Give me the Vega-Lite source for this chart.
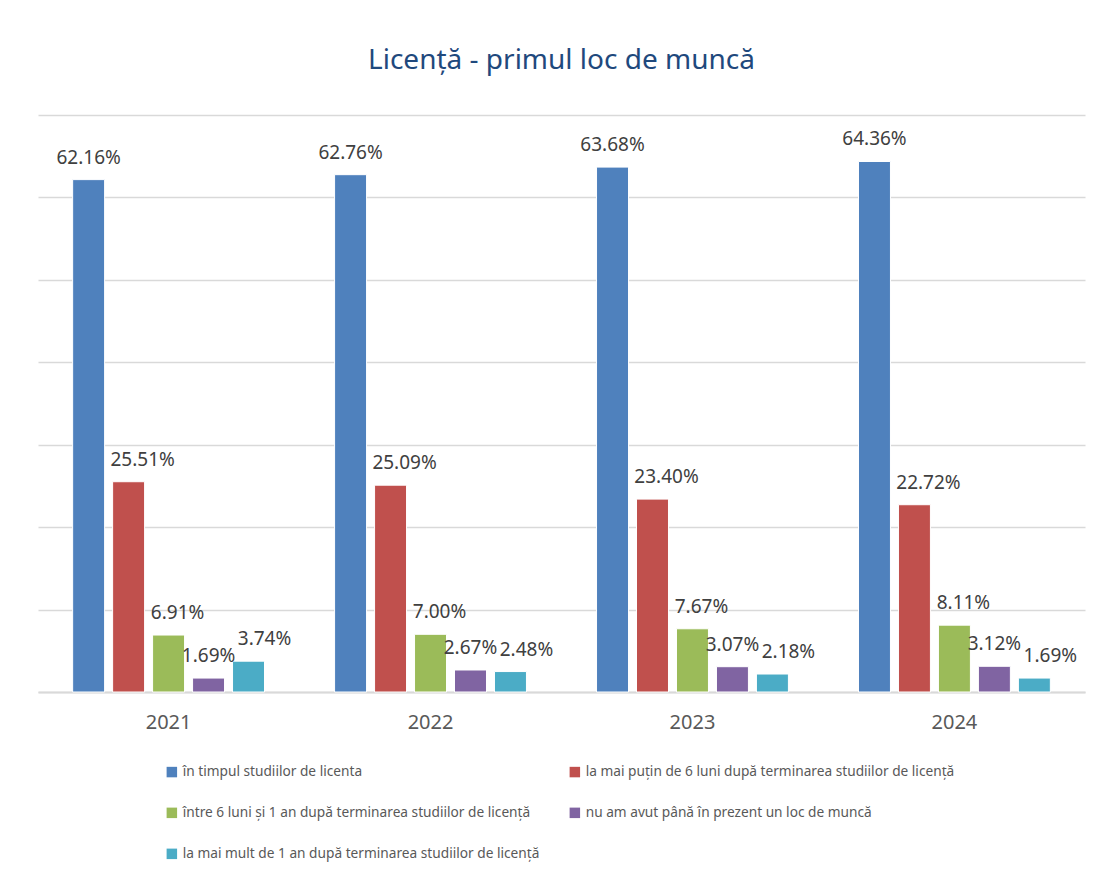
{
  "$schema": "https://vega.github.io/schema/vega-lite/v6.json",
  "autosize": "none",
  "width": 1047,
  "height": 577,
  "padding": {"left": 38, "top": 115, "right": 12, "bottom": 188},
  "background": "white",
  "title": {
    "text": "Licență - primul loc de muncă",
    "font": "Noto Sans",
    "fontSize": 28,
    "fontWeight": "normal",
    "color": "#1f497d",
    "anchor": "middle",
    "offset": 40
  },
  "data": {
    "values": [
      {"an": "2021", "cat": "în timpul studiilor de licenta", "v": 0.6216},
      {"an": "2021", "cat": "la mai puțin de 6 luni după terminarea studiilor de licență", "v": 0.2551},
      {"an": "2021", "cat": "între 6 luni și 1 an după terminarea studiilor de licență", "v": 0.0691},
      {"an": "2021", "cat": "nu am avut până în prezent un loc de muncă", "v": 0.0169},
      {"an": "2021", "cat": "la mai mult de 1 an după terminarea studiilor de licență", "v": 0.0374},
      {"an": "2022", "cat": "în timpul studiilor de licenta", "v": 0.6276},
      {"an": "2022", "cat": "la mai puțin de 6 luni după terminarea studiilor de licență", "v": 0.2509},
      {"an": "2022", "cat": "între 6 luni și 1 an după terminarea studiilor de licență", "v": 0.0700},
      {"an": "2022", "cat": "nu am avut până în prezent un loc de muncă", "v": 0.0267},
      {"an": "2022", "cat": "la mai mult de 1 an după terminarea studiilor de licență", "v": 0.0248},
      {"an": "2023", "cat": "în timpul studiilor de licenta", "v": 0.6368},
      {"an": "2023", "cat": "la mai puțin de 6 luni după terminarea studiilor de licență", "v": 0.2340},
      {"an": "2023", "cat": "între 6 luni și 1 an după terminarea studiilor de licență", "v": 0.0767},
      {"an": "2023", "cat": "nu am avut până în prezent un loc de muncă", "v": 0.0307},
      {"an": "2023", "cat": "la mai mult de 1 an după terminarea studiilor de licență", "v": 0.0218},
      {"an": "2024", "cat": "în timpul studiilor de licenta", "v": 0.6436},
      {"an": "2024", "cat": "la mai puțin de 6 luni după terminarea studiilor de licență", "v": 0.2272},
      {"an": "2024", "cat": "între 6 luni și 1 an după terminarea studiilor de licență", "v": 0.0811},
      {"an": "2024", "cat": "nu am avut până în prezent un loc de muncă", "v": 0.0312},
      {"an": "2024", "cat": "la mai mult de 1 an după terminarea studiilor de licență", "v": 0.0169}
    ]
  },
  "encoding": {
    "x": {
      "field": "an",
      "type": "nominal",
      "scale": {"paddingInner": 0.237, "paddingOuter": 0.117},
      "axis": {
        "title": null,
        "labelAngle": 0,
        "labelFont": "Noto Sans",
        "labelFontSize": 20,
        "labelColor": "#595959",
        "labelPadding": 20,
        "ticks": false,
        "domainColor": "#d9d9d9",
        "domainWidth": 2
      }
    },
    "xOffset": {
      "field": "cat",
      "type": "nominal",
      "sort": [
        "în timpul studiilor de licenta",
        "la mai puțin de 6 luni după terminarea studiilor de licență",
        "între 6 luni și 1 an după terminarea studiilor de licență",
        "nu am avut până în prezent un loc de muncă",
        "la mai mult de 1 an după terminarea studiilor de licență"
      ],
      "scale": {"paddingInner": 0.2, "paddingOuter": 0.1}
    },
    "y": {
      "field": "v",
      "type": "quantitative",
      "scale": {"domain": [0, 0.7]},
      "axis": {
        "title": null,
        "labels": false,
        "ticks": false,
        "domain": false,
        "tickCount": 7,
        "gridColor": "#d9d9d9",
        "gridWidth": 1.5
      }
    },
    "text": {"field": "v", "type": "quantitative", "format": ".2%"}
  },
  "layer": [
    {
      "mark": {"type": "bar", "stroke": "white", "strokeWidth": 1},
      "encoding": {
        "text": null,
        "color": {
          "field": "cat",
          "type": "nominal",
          "sort": [
            "în timpul studiilor de licenta",
            "între 6 luni și 1 an după terminarea studiilor de licență",
            "la mai mult de 1 an după terminarea studiilor de licență",
            "la mai puțin de 6 luni după terminarea studiilor de licență",
            "nu am avut până în prezent un loc de muncă"
          ],
          "scale": {"range": ["#4f81bd", "#9bbb59", "#4bacc6", "#c0504d", "#8064a2"]},
          "legend": {
            "title": null,
            "orient": "none",
            "legendX": 127,
            "legendY": 650,
            "columns": 2,
            "columnPadding": 28,
            "rowPadding": 26,
            "symbolType": "square",
            "symbolSize": 110,
            "symbolStrokeWidth": 0,
            "labelFont": "Noto Sans",
            "labelFontSize": 13.7,
            "labelColor": "#595959",
            "labelLimit": 500,
            "labelOffset": 4
          }
        }
      }
    },
    {
      "transform": [{"filter": {"field": "cat", "oneOf": ["în timpul studiilor de licenta", "nu am avut până în prezent un loc de muncă"]}}],
      "mark": {"type": "text", "font": "Noto Sans", "fontSize": 19, "color": "#404040", "baseline": "alphabetic", "dy": -16}
    },
    {
      "transform": [{"filter": {"field": "cat", "equal": "la mai puțin de 6 luni după terminarea studiilor de licență"}}],
      "mark": {"type": "text", "font": "Noto Sans", "fontSize": 19, "color": "#404040", "baseline": "alphabetic", "dy": -16, "dx": 14}
    },
    {
      "transform": [{"filter": {"field": "cat", "equal": "între 6 luni și 1 an după terminarea studiilor de licență"}}],
      "mark": {"type": "text", "font": "Noto Sans", "fontSize": 19, "color": "#404040", "baseline": "alphabetic", "dy": -16, "dx": 9}
    },
    {
      "transform": [{"filter": {"field": "cat", "equal": "la mai mult de 1 an după terminarea studiilor de licență"}}],
      "mark": {"type": "text", "font": "Noto Sans", "fontSize": 19, "color": "#404040", "baseline": "alphabetic", "dy": -16, "dx": 16}
    }
  ],
  "config": {
    "view": {"stroke": null}
  }
}
